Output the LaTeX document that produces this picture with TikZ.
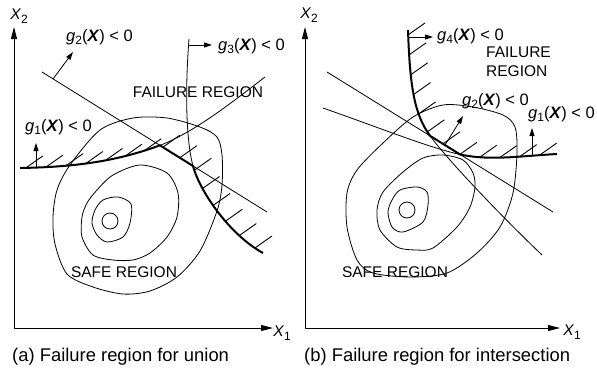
\documentclass[tikz,border=0pt]{standalone}
\usepackage{fontspec}
\setmainfont{Liberation Sans}
\usetikzlibrary{arrows.meta,calc,decorations.markings}

\newcommand{\lowsub}[1]{\raisebox{-.45ex}{\fontsize{12}{12}\selectfont #1}}
\newcommand{\gX}[1]{\textit{g}\lowsub{#1}(\textbf{\textit{X}}) < 0}
\newcommand{\axX}[1]{\textit{X}\lowsub{#1}}

\begin{document}
\begin{tikzpicture}[x=1pt,y=-1pt,
  thinline/.style={line width=.8pt},
  bound/.style={line width=2pt,line join=round,postaction={decorate,decoration={markings,
    mark=between positions 0.02 and 0.99 step 20pt with {\pgftransformresetnontranslations
      \draw[line width=.9pt] (0pt,0pt) -- (17pt,12pt);}}}},
  axis/.style={line width=.9pt,{Triangle[length=12pt,width=6pt]}-{Triangle[length=12pt,width=6pt]}},
  lblarrow/.style={line width=.8pt,-{Triangle[length=8pt,width=5pt]}},
  lbl/.style={font=\fontsize{15.5}{19}\selectfont,inner sep=0pt},
  glbl/.style={font=\fontsize{16.5}{19}\selectfont,inner sep=0pt,anchor=base west},
  caption/.style={font=\fontsize{18.4}{21}\selectfont,inner sep=0pt,anchor=base west}]
 \useasboundingbox (0,0) rectangle (597,368);

 % (a) union
 \coordinate (ya) at (14,27); \coordinate (oa) at (14,328); \coordinate (xa) at (273,328);
 \draw[axis] (ya) -- (oa) -- (xa);
 \node[lbl] (x2a) at (19,16) {\axX{2}};
 \node[lbl] (x1a) at (282,333) {\axX{1}};
 % contours
 \draw[thinline] plot[smooth cycle] coordinates {(57,190) (70,165) (100,130) (133,118) (167,118) (200,127) (217,137) (222,155) (222,185) (217,211) (200,251) (177,277) (150,291) (123,294) (93,287) (67,274) (55,244) (53,217)};
 \draw[thinline] plot[smooth cycle] coordinates {(140,165) (167,173) (178,193) (177,217) (167,237) (150,253) (133,260) (113,260) (93,255) (82,237) (82,217) (87,203) (97,190) (113,175)};
 \draw[thinline] plot[smooth cycle] coordinates {(103,200) (118,197) (131,204) (130,223) (123,237) (107,242) (97,235) (92,223) (95,210)};
 \draw[thinline] (110,221) circle (8);
 % limit states
 \coordinate (g2s) at (42,72); \coordinate (g2e) at (267,212);
 \draw[thinline] (g2s) -- (g2e);
 \coordinate (i12) at ($(g2s)!.524!(g2e)$);
 \coordinate (i23) at ($(g2s)!.671!(g2e)$);
 \draw[thinline] (i12) .. controls (195,132) and (235,100) .. (265,77);
 \draw[thinline] (189,39) .. controls (185,90) and (186,140) .. (i23);
 \draw[bound] (20,168) .. controls (80,167) and (120,160) .. (i12) -- (i23) .. controls (200,192) and (230,235) .. (263,253);
 % labels
 \coordinate (g2pa) at (53,79); \coordinate (g2qa) at (73,52);
 \draw[lblarrow] (g2pa) -- (g2qa);
 \coordinate (g3pa) at (189,45); \coordinate (g3qa) at (212,45);
 \draw[lblarrow] (g3pa) -- (g3qa);
 \coordinate (g1pa) at (36,168); \coordinate (g1qa) at (36,143);
 \draw[lblarrow] (g1pa) -- (g1qa);
 \node[glbl] (g2la) at (66,41) {\gX{2}};
 \node[glbl] (g3la) at (218,50) {\gX{3}};
 \node[glbl] (g1la) at (25,131) {\gX{1}};
 \node[lbl] (faila) at (198,92) {FAILURE REGION};
 \node[lbl] (safea) at (124,272) {SAFE REGION};
 \node[caption] (capa) at (12,361) {(a) Failure region for union};

 % (b) intersection
 \coordinate (yb) at (305,27); \coordinate (ob) at (305,328); \coordinate (xb) at (560,328);
 \draw[axis] (yb) -- (ob) -- (xb);
 \node[lbl] (x2b) at (309,15) {\axX{2}};
 \node[lbl] (x1b) at (572,332) {\axX{1}};
 % contours
 \draw[thinline] plot[smooth cycle] coordinates {(443,105) (473,107) (503,115) (515,127) (517,153) (513,193) (500,227) (477,253) (447,273) (410,277) (373,273) (357,260) (347,227) (347,193) (357,170) (383,143) (413,117)};
 \draw[thinline] plot[smooth cycle] coordinates {(443,155) (463,160) (473,173) (475,187) (470,207) (457,227) (433,248) (417,250) (397,247) (380,230) (377,210) (383,192) (403,172) (423,158)};
 \draw[thinline] plot[smooth cycle] coordinates {(400,190) (417,187) (427,192) (428,205) (423,222) (403,232) (392,227) (388,212) (392,200)};
 \draw[thinline] (407,210) circle (8);
 % limit states
 \coordinate (g2sb) at (327,72); \coordinate (g2eb) at (553,212);
 \draw[thinline] (g2sb) -- (g2eb);
 \coordinate (i24) at ($(g2sb)!.456!(g2eb)$);
 \coordinate (i21) at ($(g2sb)!.589!(g2eb)$);
 \draw[thinline] (i24) .. controls (445,156.6) and (495,210) .. (542,255);
 \draw[thinline] (323,108) .. controls (380,128) and (430,148) .. (i21);
 \draw[bound] (408,30) .. controls (410,90) and (415,115) .. (i24) -- (i21) .. controls (490,161) and (520,156) .. (557,154);
 % labels
 \coordinate (g4pb) at (409,37); \coordinate (g4qb) at (433,37);
 \draw[lblarrow] (g4pb) -- (g4qb);
 \coordinate (g2pb) at (445,145); \coordinate (g2qb) at (463,116);
 \draw[lblarrow] (g2pb) -- (g2qb);
 \coordinate (g1pb) at (532,155); \coordinate (g1qb) at (532,128);
 \draw[lblarrow] (g1pb) -- (g1qb);
 \node[glbl] (g4lb) at (437,40) {\gX{4}};
 \node[lbl,anchor=north west,align=left] (failb) at (486,47) {FAILURE\\REGION};
 \node[glbl] (g2lb) at (462,105) {\gX{2}};
 \node[glbl] (g1lb) at (528,118) {\gX{1}};
 \node[lbl] (safeb) at (395,272) {SAFE REGION};
 \node[caption] (capb) at (304,361) {(b) Failure region for intersection};
\end{tikzpicture}
\end{document}
